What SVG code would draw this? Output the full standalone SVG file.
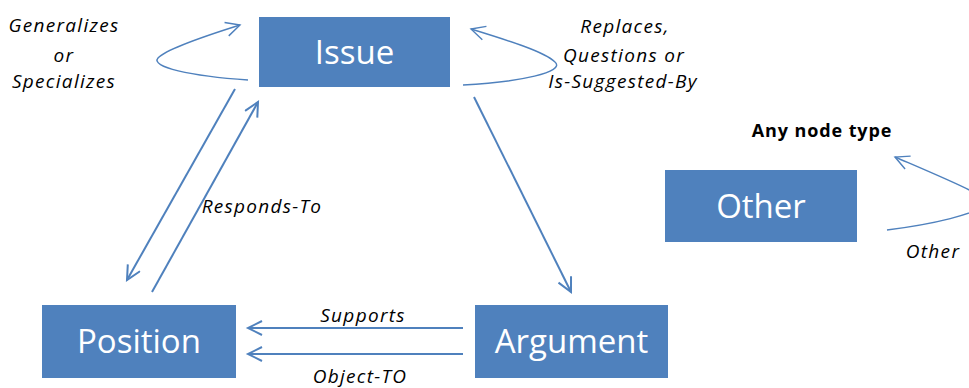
<svg xmlns="http://www.w3.org/2000/svg" width="969" height="388" viewBox="0 0 969 388">
  <defs>
    <marker id="chev" markerUnits="userSpaceOnUse" markerWidth="20" markerHeight="20" refX="15" refY="8" orient="auto">
      <path d="M1,1 L15,8 L1,15" fill="none" stroke="#4F81BD" stroke-width="2"/>
    </marker>
    <marker id="chevThin" markerUnits="userSpaceOnUse" markerWidth="20" markerHeight="20" refX="15" refY="8" orient="auto">
      <path d="M1,1 L15,8 L1,15" fill="none" stroke="#4F81BD" stroke-width="1.4"/>
    </marker>
    <style>
      .box { fill: #4F81BD; }
      .name { font-family: "Open Sans", "Liberation Sans", sans-serif; font-size: 33px; fill: #FFFFFF; text-anchor: middle; }
      .lbl { font-family: "Open Sans", "Liberation Sans", sans-serif; font-size: 19px; font-style: italic; fill: #000000; text-anchor: middle; letter-spacing: 1.3px; }
      .bold { font-family: "Open Sans", "Liberation Sans", sans-serif; font-size: 18px; font-weight: bold; fill: #000000; text-anchor: middle; letter-spacing: 0.9px; }
      .edge { fill: none; stroke: #4F81BD; stroke-width: 2; marker-end: url(#chev); }
      .loop { fill: none; stroke: #4F81BD; stroke-width: 1.4; marker-end: url(#chevThin); }
    </style>
  </defs>
  <rect width="969" height="388" fill="#FFFFFF"/>

  <g id="connectors">
    <!-- self loops -->
    <path class="loop" d="M248,80 C190,76 150,67 158,58 C166,49 205,36 240,25"/>
    <path class="loop" d="M463,85 C520,82 566,72 555,62 C545,52 510,41 471,29"/>
    <path class="loop" d="M887,230 C935,224 975,214 985,205 C992,198 960,185 895,157"/>
    <!-- Issue / Position -->
    <path class="edge" d="M235,89 L127,280"/>
    <path class="edge" d="M152,292 L258,102"/>
    <!-- Issue to Argument -->
    <path class="edge" d="M474,97 L571,292"/>
    <!-- Argument to Position -->
    <path class="edge" d="M463,328 L248,328"/>
    <path class="edge" d="M463,354 L248,354"/>
  </g>

  <g id="labels">
    <text class="lbl" x="64" y="32">Generalizes</text>
    <text class="lbl" x="64" y="62">or</text>
    <text class="lbl" x="64" y="88">Specializes</text>
    <text class="lbl" x="625" y="33">Replaces,</text>
    <text class="lbl" x="624" y="62">Questions or</text>
    <text class="lbl" x="623" y="88">Is-Suggested-By</text>
    <text class="lbl" x="262" y="213">Responds-To</text>
    <text class="lbl" x="363" y="322">Supports</text>
    <text class="lbl" x="360" y="383">Object-TO</text>
    <text class="lbl" x="933" y="258">Other</text>
    <text class="bold" x="822" y="137">Any node type</text>
  </g>

  <g id="issue">
    <rect class="box" x="259" y="17" width="191" height="70"/>
    <text class="name" x="354.5" y="64">Issue</text>
  </g>
  <g id="position">
    <rect class="box" x="42" y="305" width="194" height="73"/>
    <text class="name" x="139" y="353">Position</text>
  </g>
  <g id="argument">
    <rect class="box" x="475" y="305" width="193" height="73"/>
    <text class="name" x="571.5" y="353">Argument</text>
  </g>
  <g id="other">
    <rect class="box" x="665" y="170" width="192" height="72"/>
    <text class="name" x="761" y="218">Other</text>
  </g>
</svg>
